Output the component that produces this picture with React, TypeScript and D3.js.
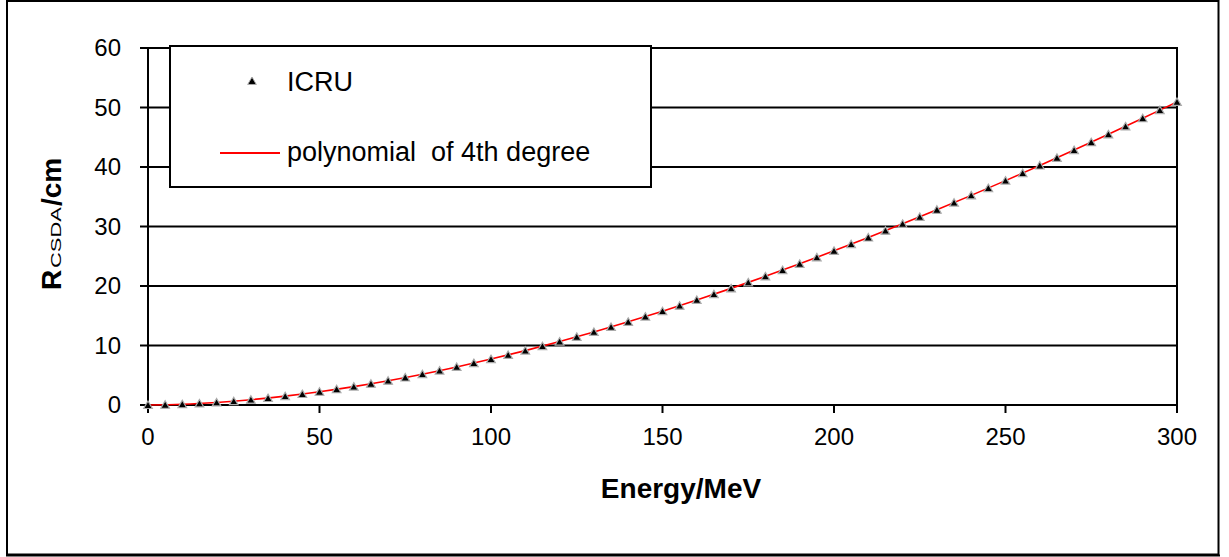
import React from "react";
import * as d3 from "d3";

// ICRU CSDA range data (energy in MeV, range in cm)
const icruEnergy: number[] = [
  0, 5, 10, 15, 20, 25, 30, 35, 40, 45, 50, 55, 60, 65, 70, 75, 80, 85, 90, 95,
  100, 105, 110, 115, 120, 125, 130, 135, 140, 145, 150, 155, 160, 165, 170, 175,
  180, 185, 190, 195, 200, 205, 210, 215, 220, 225, 230, 235, 240, 245, 250, 255,
  260, 265, 270, 275, 280, 285, 290, 295, 300,
];
const icruRange: number[] = [
  0, 0.036, 0.123, 0.254, 0.426, 0.637, 0.885, 1.17, 1.489, 1.842, 2.227, 2.644,
  3.093, 3.572, 4.08, 4.618, 5.184, 5.777, 6.398, 7.045, 7.718, 8.417, 9.141,
  9.889, 10.66, 11.46, 12.28, 13.12, 13.98, 14.86, 15.77, 16.69, 17.65, 18.62,
  19.6, 20.61, 21.63, 22.67, 23.73, 24.81, 25.91, 27.02, 28.15, 29.29, 30.45,
  31.62, 32.81, 34.01, 35.23, 36.46, 37.71, 38.97, 40.25, 41.54, 42.84, 44.16,
  45.49, 46.83, 48.19, 49.56, 50.94,
];

// Polynomial (4th degree) fit line
const polyEnergy: number[] = [
  0, 10, 20, 30, 40, 50, 60, 70, 80, 90, 100, 110, 120, 130, 140, 150, 160, 170,
  180, 190, 200, 210, 220, 230, 240, 250, 260, 270, 280, 290, 300,
];
const polyRange: number[] = [
  0, 0.12, 0.43, 0.89, 1.49, 2.23, 3.09, 4.08, 5.18, 6.4, 7.72, 9.14, 10.66,
  12.28, 13.98, 15.77, 17.65, 19.6, 21.63, 23.73, 25.91, 28.15, 30.45, 32.81,
  35.23, 37.71, 40.25, 42.84, 45.49, 48.19, 50.94,
];

const xTicks: number[] = [0, 50, 100, 150, 200, 250, 300];
const yTicks: number[] = [0, 10, 20, 30, 40, 50, 60];

const legendLabels = ["ICRU", "polynomial  of 4th degree"];
const xTitle = "Energy/MeV";

const FONT = "'Liberation Sans', Arial, sans-serif";

export default function App() {
  const W = 1229;
  const H = 557;
  const x = d3.scaleLinear().domain([0, 300]).range([148, 1177]);
  const y = d3.scaleLinear().domain([0, 60]).range([405, 48]);

  const line = d3
    .line<number>()
    .x((_, i) => x(polyEnergy[i]))
    .y((d) => y(d))
    .curve(d3.curveCatmullRom);
  const tri = d3.symbol().type(d3.symbolTriangle).size(32)() as string;

  return (
    <svg
      width={W}
      height={H}
      style={{ position: "absolute", left: 0, top: 0, display: "block", background: "#fff" }}
      fontFamily={FONT}
    >
      <rect x={0} y={0} width={W} height={H} fill="#fff" />
      {/* outer border */}
      <rect x={7} y={1} width={1211.5} height={553.5} fill="none" stroke="#000" strokeWidth={2} />
      <line x1={6} x2={1220} y1={555.5} y2={555.5} stroke="#000" strokeWidth={2} />

      {/* gridlines */}
      {yTicks.filter((t) => t > 0).map((t) => (
        <line key={"g" + t} x1={x(0)} x2={x(300)} y1={y(t)} y2={y(t)} stroke="#000" strokeWidth={2} />
      ))}
      {/* right border of plot */}
      <line x1={x(300)} x2={x(300)} y1={y(60) - 1} y2={y(0) + 8} stroke="#000" strokeWidth={2} />
      {/* axes */}
      <line x1={x(0)} x2={x(300)} y1={y(0)} y2={y(0)} stroke="#000" strokeWidth={2} />
      <line x1={x(0)} x2={x(0)} y1={y(60) - 1} y2={y(0) + 1} stroke="#000" strokeWidth={2} />
      {yTicks.map((t) => (
        <g key={"yt" + t}>
          <line x1={x(0) - 8} x2={x(0)} y1={y(t)} y2={y(t)} stroke="#000" strokeWidth={2} />
          <text x={121} y={y(t)} dy="0.35em" textAnchor="end" fontSize={24} fill="#000">
            {t}
          </text>
        </g>
      ))}
      {xTicks.map((t) => (
        <g key={"xt" + t}>
          <line x1={x(t)} x2={x(t)} y1={y(0)} y2={y(0) + 8} stroke="#000" strokeWidth={2} />
          <text x={x(t)} y={445} textAnchor="middle" fontSize={24} fill="#000">
            {t}
          </text>
        </g>
      ))}

      {/* polynomial line */}
      <path d={line(polyRange) || ""} fill="none" stroke="#ff0000" strokeWidth={1.6} />
      {/* ICRU markers */}
      {icruRange.map((v, i) => (
        <path
          key={"p" + i}
          d={tri}
          transform={`translate(${x(icruEnergy[i])},${y(v) + 1})`}
          fill="#000"
          stroke="#aaa"
          strokeWidth={1.2}
        />
      ))}

      {/* legend */}
      <rect x={170} y={46} width={481} height={141} fill="#fff" stroke="#000" strokeWidth={2} />
      <path d={tri} transform="translate(252,82)" fill="#000" stroke="#aaa" strokeWidth={1} />
      <text x={287} y={91} fontSize={27} fill="#000">
        {legendLabels[0]}
      </text>
      <line x1={220} x2={280} y1={153} y2={153} stroke="#ff0000" strokeWidth={2} />
      <text x={287} y={161} fontSize={27} fill="#000" style={{ whiteSpace: "pre" }}>
        {legendLabels[1]}
      </text>

      {/* axis titles */}
      <text x={681} y={498} textAnchor="middle" fontSize={28} fontWeight="bold" fill="#000">
        {xTitle}
      </text>
      <g transform="translate(61,0) rotate(-90)">
        <text x={-290} y={0} fontSize={28} fontWeight="bold" fill="#000">
          R
        </text>
        <text x={-268} y={0} fontSize={14} fill="#000" textLength={61} lengthAdjust="spacingAndGlyphs">
          CSDA
        </text>
        <text x={-206} y={0} fontSize={28} fontWeight="bold" fill="#000">
          /cm
        </text>
      </g>
    </svg>
  );
}
